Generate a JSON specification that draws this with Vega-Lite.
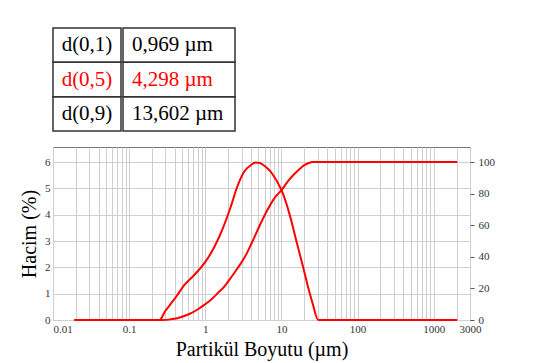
{
  "$schema": "https://vega.github.io/schema/vega-lite/v6.json",
  "background": "white",
  "padding": {"left": 19, "top": 27, "right": 5, "bottom": 2},
  "config": {"font": "Liberation Serif", "view": {"stroke": null}},
  "datasets": {
    "tablo": [
      {"satir": 1, "etiket": "d(0,1)", "deger": "0,969 µm", "vurgu": "hayir"},
      {"satir": 2, "etiket": "d(0,5)", "deger": "4,298 µm", "vurgu": "evet"},
      {"satir": 3, "etiket": "d(0,9)", "deger": "13,602 µm", "vurgu": "hayir"}
    ],
    "hacim": [
      {"boyut": 0.019, "hacim": 0}, {"boyut": 0.249, "hacim": 0}, {"boyut": 0.3, "hacim": 0.35},
      {"boyut": 0.356, "hacim": 0.63}, {"boyut": 0.43, "hacim": 0.95}, {"boyut": 0.531, "hacim": 1.33},
      {"boyut": 0.716, "hacim": 1.71}, {"boyut": 0.97, "hacim": 2.15}, {"boyut": 1.32, "hacim": 2.78},
      {"boyut": 1.7, "hacim": 3.48}, {"boyut": 2.16, "hacim": 4.3}, {"boyut": 2.63, "hacim": 5.06},
      {"boyut": 3.24, "hacim": 5.63}, {"boyut": 3.99, "hacim": 5.89}, {"boyut": 4.6, "hacim": 5.98},
      {"boyut": 5.2, "hacim": 5.96}, {"boyut": 6.2, "hacim": 5.82}, {"boyut": 7.0, "hacim": 5.68},
      {"boyut": 8.0, "hacim": 5.45}, {"boyut": 9.0, "hacim": 5.2}, {"boyut": 10.1, "hacim": 4.91},
      {"boyut": 12.7, "hacim": 4.05}, {"boyut": 15.6, "hacim": 3.04}, {"boyut": 19.2, "hacim": 2.03},
      {"boyut": 22.3, "hacim": 1.27}, {"boyut": 25.7, "hacim": 0.63}, {"boyut": 30.5, "hacim": 0},
      {"boyut": 2040, "hacim": 0}
    ],
    "kumulatif": [
      {"boyut": 0.019, "kum": 0}, {"boyut": 0.276, "kum": 0}, {"boyut": 0.35, "kum": 0.4},
      {"boyut": 0.43, "kum": 1.1}, {"boyut": 0.53, "kum": 2.5}, {"boyut": 0.65, "kum": 4.3},
      {"boyut": 0.8, "kum": 6.8}, {"boyut": 0.97, "kum": 9.6}, {"boyut": 1.2, "kum": 13},
      {"boyut": 1.46, "kum": 17}, {"boyut": 1.8, "kum": 21.5}, {"boyut": 2.16, "kum": 26.6},
      {"boyut": 2.5, "kum": 31}, {"boyut": 2.95, "kum": 36}, {"boyut": 3.5, "kum": 42},
      {"boyut": 3.99, "kum": 47.8}, {"boyut": 4.38, "kum": 52}, {"boyut": 5.2, "kum": 60},
      {"boyut": 6.6, "kum": 70}, {"boyut": 8.2, "kum": 77.5}, {"boyut": 10.1, "kum": 82.4},
      {"boyut": 12.5, "kum": 88.5}, {"boyut": 14.8, "kum": 92.4}, {"boyut": 17.5, "kum": 95.8},
      {"boyut": 20, "kum": 98}, {"boyut": 23, "kum": 99.4}, {"boyut": 25.7, "kum": 100},
      {"boyut": 2040, "kum": 100}
    ]
  },
  "spacing": 14,
  "vconcat": [
    {
      "spacing": 0,
      "hconcat": [
        {
          "width": 68, "height": 103,
          "data": {"name": "tablo"},
          "encoding": {
            "y": {"field": "satir", "type": "ordinal", "scale": {"paddingInner": 0, "paddingOuter": 0}, "axis": null}
          },
          "layer": [
            {"mark": {"type": "rect", "fill": null, "stroke": "#333", "strokeWidth": 1.5}},
            {"mark": {"type": "text", "fontSize": 21, "font": "Liberation Serif"},
             "encoding": {
               "text": {"field": "etiket"},
               "color": {"field": "vurgu", "type": "nominal", "scale": {"domain": ["hayir", "evet"], "range": ["#000000", "#ff0000"]}, "legend": null}
             }}
          ]
        },
        {
          "width": 112, "height": 103,
          "data": {"name": "tablo"},
          "encoding": {
            "y": {"field": "satir", "type": "ordinal", "scale": {"paddingInner": 0, "paddingOuter": 0}, "axis": null}
          },
          "layer": [
            {"mark": {"type": "rect", "fill": null, "stroke": "#333", "strokeWidth": 1.5}},
            {"mark": {"type": "text", "fontSize": 21, "font": "Liberation Serif", "align": "left", "dx": -47},
             "encoding": {
               "text": {"field": "deger"},
               "color": {"field": "vurgu", "type": "nominal", "scale": {"domain": ["hayir", "evet"], "range": ["#000000", "#ff0000"]}, "legend": null}
             }}
          ]
        }
      ]
    },
    {
      "width": 417, "height": 173,
      "view": {"stroke": "#777", "strokeWidth": 1},
      "layer": [
        {
          "data": {"name": "hacim"},
          "mark": {"type": "line", "color": "#ff0000", "strokeWidth": 2, "interpolate": "monotone"},
          "encoding": {
            "x": {"field": "boyut", "type": "quantitative",
                  "scale": {"type": "log", "domain": [0.01, 3000], "nice": false},
                  "axis": {
                    "title": "Partikül Boyutu (µm)", "titleFont": "Liberation Serif", "titleFontSize": 20, "titleFontWeight": "normal", "titleColor": "#000", "titlePadding": 5,
                    "values": [0.01,0.02,0.03,0.04,0.05,0.06,0.07,0.08,0.09,0.1,0.2,0.3,0.4,0.5,0.6,0.7,0.8,0.9,1,2,3,4,5,6,7,8,9,10,20,30,40,50,60,70,80,90,100,200,300,400,500,600,700,800,900,1000,2000,3000],
                    "labelExpr": "indexof([0.01,0.1,1,10,100,1000,3000], datum.value) >= 0 ? format(datum.value, '~g') : ''",
                    "labelOverlap": false, "labelFlush": false,
                    "labelAlign": {"condition": {"test": "datum.value == 0.01", "value": "left"}, "value": "center"},
                    "labelFont": "Liberation Serif", "labelFontSize": 11, "labelColor": "#333", "labelPadding": 3,
                    "ticks": false, "domain": false,
                    "grid": true, "gridColor": "#cfcfcf", "gridWidth": 1
                  }},
            "y": {"field": "hacim", "type": "quantitative",
                  "scale": {"domain": [0, 6.57], "nice": false},
                  "axis": {
                    "title": "Hacim (%)", "titleFont": "Liberation Serif", "titleFontSize": 20, "titleFontWeight": "normal", "titleColor": "#000", "titlePadding": 5,
                    "values": [0,1,2,3,4,5,6], "labelFont": "Liberation Serif", "labelFontSize": 11, "labelColor": "#333",
                    "ticks": false, "labelPadding": 3, "domain": false,
                    "grid": true, "gridColor": "#cfcfcf", "gridWidth": 1
                  }}
          }
        },
        {
          "data": {"name": "kumulatif"},
          "mark": {"type": "line", "color": "#ff0000", "strokeWidth": 2, "interpolate": "monotone"},
          "encoding": {
            "x": {"field": "boyut", "type": "quantitative"},
            "y": {"field": "kum", "type": "quantitative",
                  "scale": {"domain": [0, 109.5], "nice": false},
                  "axis": {
                    "orient": "right", "title": null,
                    "values": [0,20,40,60,80,100], "labelFont": "Liberation Serif", "labelFontSize": 11, "labelColor": "#333",
                    "ticks": true, "tickSize": 4, "tickColor": "#555", "labelPadding": 4, "domain": false, "grid": false
                  }}
          }
        }
      ],
      "resolve": {"scale": {"y": "independent"}}
    }
  ]
}
